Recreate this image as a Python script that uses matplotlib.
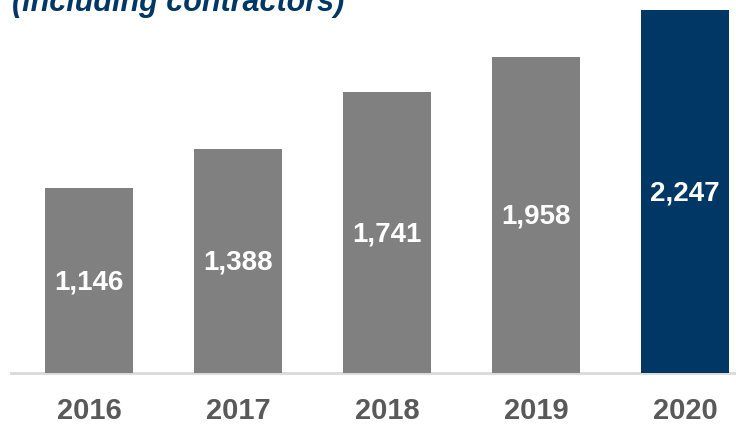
import numpy as np
import matplotlib.pyplot as plt

years = ['2016', '2017', '2018', '2019', '2020']
values = [1146, 1388, 1741, 1958, 2247]
colors = ['#808080', '#808080', '#808080', '#808080', '#003764']

fig = plt.figure(figsize=(7.36, 4.26), dpi=100)
ax = fig.add_axes([11 / 736, 53 / 426, 725 / 736, 373 / 426])

x = np.arange(len(years))
bars = ax.bar(x, values, width=0.59, color=colors, zorder=2)

# value labels in the middle of each bar
for b, v in zip(bars, values):
    ax.text(b.get_x() + b.get_width() / 2, v / 2 - 10, '{:,}'.format(v),
            ha='center', va='center', color='white', fontsize=20,
            fontweight='bold', family=['Liberation Sans', 'DejaVu Sans'])

ax.set_xlim(-0.523, 4.342)
ax.set_ylim(0, 2311)
ax.set_xticks(x)
ax.set_xticklabels(years, fontsize=21, fontweight='bold', color='#595959',
                   family=['Liberation Sans', 'DejaVu Sans'])
ax.tick_params(axis='x', length=0, pad=17)
ax.set_yticks([])
for s in ['top', 'left', 'right']:
    ax.spines[s].set_visible(False)
ax.spines['bottom'].set_color('#d9d9d9')
ax.spines['bottom'].set_linewidth(2)
ax.spines['bottom'].set_zorder(1)

fig.text(12 / 736, 1 - 11 / 426, '(including contractors)', fontsize=22,
         fontweight='bold', fontstyle='italic', color='#003764',
         va='baseline', ha='left', family=['Liberation Sans', 'DejaVu Sans'])

fig.savefig('out.png', dpi=100)
